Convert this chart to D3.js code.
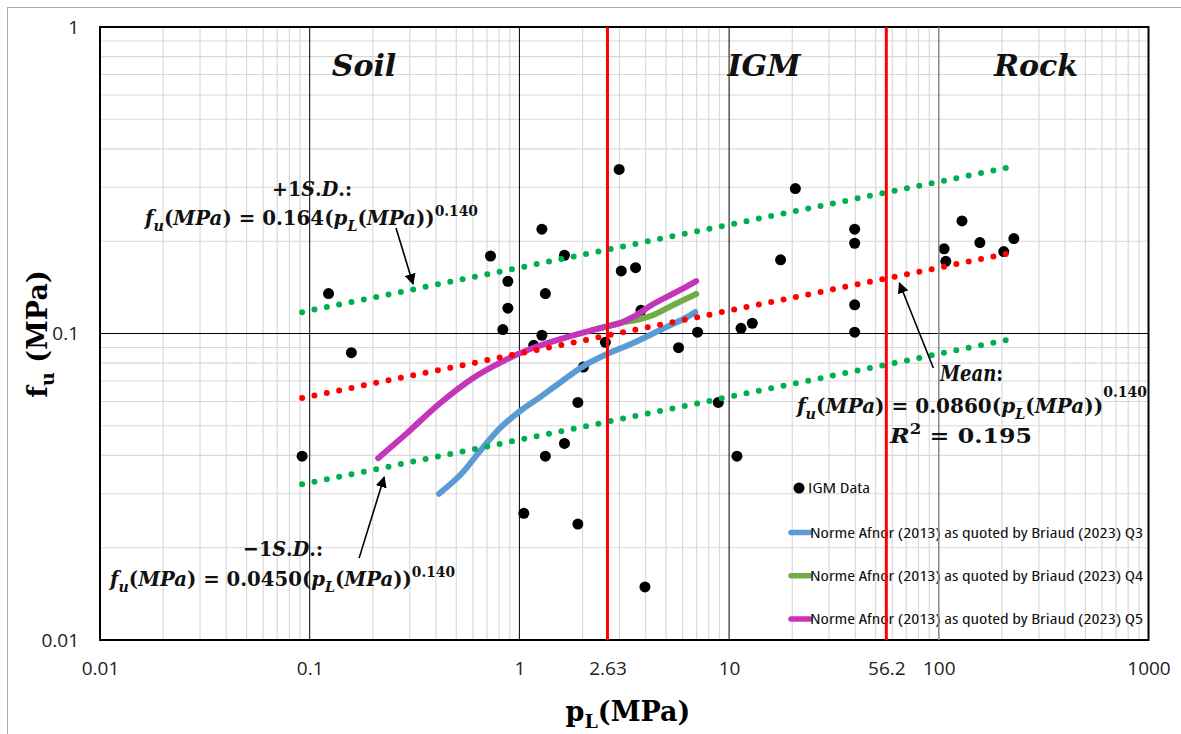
<!DOCTYPE html>
<html>
<head>
<meta charset="UTF-8">
<title>fu vs pL</title>
<style>
  body, html { margin: 0; padding: 0; background: #fff; }
  svg { display: block; }
  .axis text { font-family: "Open Sans", sans-serif; font-size: 19px; fill: #222; }
  .math { font-family: "DejaVu Serif", serif; font-weight: bold; fill: #111; }
  .legend text { font-family: "Open Sans", sans-serif; font-size: 14px; font-stretch: 80%; fill: #111; }
</style>
</head>
<body>
<script src="https://cdn.jsdelivr.net/npm/d3@7"></script>
<script>
// IGM data (pL, fu) in MPa
var dataPL = [0.092, 0.123, 0.158, 0.728, 0.881, 0.881, 0.834, 1.28, 1.33, 1.64, 1.28, 1.17, 2.02, 1.90,
  1.33, 1.64, 1.05, 1.90, 2.57, 2.99, 3.06, 3.58, 3.80, 5.74, 7.07, 3.97, 8.88, 10.9, 11.4, 12.9, 17.6,
  20.7, 39.7, 39.7, 39.7, 39.7, 106, 108, 129, 157, 204, 228];
var dataFU = [0.0398, 0.135, 0.0866, 0.179, 0.148, 0.121, 0.103, 0.219, 0.135, 0.180, 0.0987, 0.0915, 0.0777, 0.0596,
  0.0398, 0.0438, 0.0259, 0.0239, 0.0936, 0.343, 0.160, 0.164, 0.119, 0.0899, 0.101, 0.0149, 0.0596, 0.0398, 0.104, 0.108, 0.174,
  0.297, 0.219, 0.197, 0.124, 0.101, 0.189, 0.172, 0.233, 0.198, 0.185, 0.204];

// Norme Afnor curves
var q3PL = [0.414, 0.528, 0.650, 0.810, 1.01, 1.26, 1.60, 2.02, 2.62, 3.49, 4.70, 6.32, 6.90];
var q3FU = [0.0300, 0.0348, 0.0414, 0.0492, 0.0559, 0.0621, 0.0700, 0.0783, 0.0857, 0.0931, 0.1027, 0.1132, 0.1175];
var q4PL = [2.25, 3.03, 3.70, 4.35, 5.42, 6.97];
var q4FU = [0.1027, 0.1082, 0.1110, 0.1149, 0.1239, 0.1346];
var q5PL = [0.212, 0.292, 0.414, 0.602, 0.837, 1.126, 1.565, 2.249, 3.027, 3.49, 4.35, 5.85, 6.97];
var q5FU = [0.0392, 0.0474, 0.0589, 0.0716, 0.0813, 0.0890, 0.0959, 0.1027, 0.1082, 0.1132, 0.1248, 0.1387, 0.1483];

// power fits, end points
var fitPL = [0.092, 228];
var meanFU = [0.0616, 0.184];
var plusFU = [0.1174, 0.351];
var minusFU = [0.0322, 0.0963];

// boundaries Soil / IGM / Rock
var limits = [2.63, 56.2];
var zones = ['Soil', 'IGM', 'Rock'];

var xTicks = [0.01, 0.1, 1, 2.63, 10, 56.2, 100, 1000];
var xTickLabels = ['0.01', '0.1', '1', '2.63', '10', '56.2', '100', '1000'];
var yTicks = [0.01, 0.1, 1];
var yTickLabels = ['0.01', '0.1', '1'];

var legendNames = ['IGM Data',
  'Norme Afnor (2013) as quoted by Briaud (2023) Q3',
  'Norme Afnor (2013) as quoted by Briaud (2023) Q4',
  'Norme Afnor (2013) as quoted by Briaud (2023) Q5'];

var W = 1181, H = 734;
var L = 100, R = 1148.5, T = 27, B = 640;

var svg = d3.select('body').append('svg')
  .attr('width', W)
  .attr('height', H);

var x = d3.scaleLog().domain([0.01, 1000]).range([L, R]);
var y = d3.scaleLog().domain([0.01, 1]).range([B, T]);

function isPow10(v) {
  var l = Math.log10(v);
  return Math.abs(l - Math.round(l)) < 1e-9;
}

// outer frame
svg.append('rect')
  .attr('x', 7.5).attr('y', 7.5)
  .attr('width', W).attr('height', H)
  .attr('fill', 'none').attr('stroke', '#aaa');

// minor grid
var grid = svg.append('g');
grid.selectAll('.vx').data(x.ticks().filter(function(v) { return !isPow10(v); }))
  .enter().append('line')
  .attr('x1', x).attr('x2', x).attr('y1', T).attr('y2', B)
  .attr('stroke', '#d9d9d9').attr('stroke-width', 1.2);
grid.selectAll('.hy').data(y.ticks().filter(function(v) { return !isPow10(v); }))
  .enter().append('line')
  .attr('x1', L).attr('x2', R).attr('y1', y).attr('y2', y)
  .attr('stroke', '#d9d9d9').attr('stroke-width', 1.2);

// major grid
grid.selectAll('.mx').data([0.1, 1, 10])
  .enter().append('line')
  .attr('x1', x).attr('x2', x).attr('y1', T).attr('y2', B)
  .attr('stroke', '#000').attr('stroke-width', 1);
grid.append('line')
  .attr('x1', L).attr('x2', R).attr('y1', y(0.1)).attr('y2', y(0.1))
  .attr('stroke', '#000').attr('stroke-width', 1);

// data points
svg.append('g').selectAll('circle')
  .data(dataPL.map(function(p, i) { return [p, dataFU[i]]; }))
  .enter().append('circle')
  .attr('cx', function(d) { return x(d[0]); })
  .attr('cy', function(d) { return y(d[1]); })
  .attr('r', 5.5)
  .attr('fill', '#000');

// afnor curves
var line = d3.line()
  .x(function(d) { return x(d[0]); })
  .y(function(d) { return y(d[1]); })
  .curve(d3.curveCatmullRom);

var curves = [
  { p: q3PL, f: q3FU, c: '#5b9bd5' },
  { p: q4PL, f: q4FU, c: '#70ad47' },
  { p: q5PL, f: q5FU, c: '#c535b8' }
];
curves.forEach(function(s) {
  svg.append('path')
    .datum(s.p.map(function(p, i) { return [p, s.f[i]]; }))
    .attr('d', line)
    .attr('fill', 'none')
    .attr('stroke', s.c)
    .attr('stroke-width', 6)
    .attr('stroke-linecap', 'round')
    .attr('stroke-linejoin', 'round');
});

// trend lines (dotted)
var fits = [
  { f: plusFU, c: '#00b050' },
  { f: minusFU, c: '#00b050' },
  { f: meanFU, c: '#ff0000' }
];
fits.forEach(function(s) {
  svg.append('path')
    .datum(fitPL.map(function(p, i) { return [p, s.f[i]]; }))
    .attr('d', d3.line().x(function(d) { return x(d[0]); }).y(function(d) { return y(d[1]); }))
    .attr('fill', 'none')
    .attr('stroke', s.c)
    .attr('stroke-width', 6)
    .attr('stroke-dasharray', '0 12.6')
    .attr('stroke-linecap', 'round');
});

// legend
var lg = svg.append('g').attr('class', 'legend');
lg.append('circle').attr('cx', 799).attr('cy', 488).attr('r', 5.5).attr('fill', '#000');
lg.append('text').attr('x', 808).attr('y', 493).attr('textLength', 62)
  .attr('lengthAdjust', 'spacingAndGlyphs').text(legendNames[0]);
curves.forEach(function(s, i) {
  var yy = 532.5 + i * 43.3;
  lg.append('line').attr('x1', 791).attr('x2', 810).attr('y1', yy).attr('y2', yy)
    .attr('stroke', s.c).attr('stroke-width', 5.5).attr('stroke-linecap', 'round');
  lg.append('text').attr('x', 810).attr('y', yy + 5).attr('textLength', 333)
    .attr('lengthAdjust', 'spacingAndGlyphs').text(legendNames[i + 1]);
});

// plot border
svg.append('rect')
  .attr('x', L).attr('y', T)
  .attr('width', R - L).attr('height', B - T)
  .attr('fill', 'none').attr('stroke', '#000').attr('stroke-width', 2);

// boundary lines
svg.append('line')
  .attr('x1', x(100)).attr('x2', x(100)).attr('y1', T).attr('y2', B)
  .attr('stroke', '#888').attr('stroke-width', 1.5);
svg.selectAll('.lim').data(limits)
  .enter().append('line')
  .attr('x1', x).attr('x2', x).attr('y1', T).attr('y2', B)
  .attr('stroke', '#ff0000').attr('stroke-width', 3);

// axes
var xAxis = d3.axisBottom(x).tickValues(xTicks).tickSize(0).tickPadding(22)
  .tickFormat(function(d, i) { return xTickLabels[i]; });
svg.append('g').attr('class', 'axis').attr('transform', 'translate(0,' + B + ')')
  .call(xAxis).call(function(g) { g.select('.domain').remove(); });
var yAxis = d3.axisLeft(y).tickValues(yTicks).tickSize(0).tickPadding(21)
  .tickFormat(function(d, i) { return yTickLabels[i]; });
svg.append('g').attr('class', 'axis').attr('transform', 'translate(' + L + ',0)')
  .call(yAxis).call(function(g) { g.select('.domain').remove(); });

// math-like text helper
function mathText(px, py, size, parts, len, anchor) {
  var t = svg.append('text').attr('class', 'math')
    .attr('x', px).attr('y', py)
    .attr('font-size', size)
    .attr('text-anchor', anchor || 'start');
  if (len) t.attr('textLength', len).attr('lengthAdjust', 'spacingAndGlyphs');
  var shift = 0;
  parts.forEach(function(p) {
    var target = 0, fs = size;
    if (p[1].indexOf('sub') >= 0) { target = size * 0.28; fs = size * 0.72; }
    if (p[1].indexOf('sup') >= 0) { target = -size * (p[2] || 0.45); fs = size * 0.7; }
    var s = t.append('tspan').attr('dy', target - shift).attr('font-size', fs).text(p[0]);
    if (p[1].indexOf('i') >= 0) s.attr('font-style', 'italic');
    shift = target;
  });
  return t;
}

// zone labels
var zoneX = [364, 764, 1036];
zones.forEach(function(z, i) {
  mathText(zoneX[i], 76, 30, [[z, 'i']], null, 'middle');
});

function eq(coef, supUp) {
  return [['f', 'i'], ['u', 'subi'], ['(', ''], ['MPa', 'i'], [') = ' + coef + '(', ''],
    ['p', 'i'], ['L', 'subi'], ['(', ''], ['MPa', 'i'], ['))', ''], ['0.140', 'sup', supUp]];
}

// +1 S.D.
mathText(312, 196, 21, [['+1', ''], ['S', 'i'], ['.', ''], ['D', 'i'], ['.:', '']], 80, 'middle');
mathText(145, 225, 21, eq('0.164'), 333);
// -1 S.D.
mathText(283, 556, 21, [['\u22121', ''], ['S', 'i'], ['.', ''], ['D', 'i'], ['.:', '']], 80, 'middle');
mathText(110, 586, 21, eq('0.0450'), 345);
// mean
mathText(940, 381, 22, [['Mean', 'i'], [':', '']], 63);
mathText(797, 413, 21, eq('0.0860', 0.78), 350);
mathText(890, 443, 21, [['R', 'i'], ['2', 'sup'], [' = 0.195', '']], 142);

// arrows
var defs = svg.append('defs');
defs.append('marker').attr('id', 'ah')
  .attr('viewBox', '0 0 10 10').attr('refX', 9).attr('refY', 5)
  .attr('markerWidth', 7).attr('markerHeight', 7).attr('orient', 'auto')
  .append('path').attr('d', 'M0,0 L10,5 L0,10 Z').attr('fill', '#000');
var arrows = [
  [[0.258, 0.221], [0.311, 0.145]],
  [[0.172, 0.0185], [0.2265, 0.034]],
  [[94.2, 0.0772], [64.9, 0.1462]]
];
arrows.forEach(function(a) {
  svg.append('line')
    .attr('x1', x(a[0][0])).attr('y1', y(a[0][1]))
    .attr('x2', x(a[1][0])).attr('y2', y(a[1][1]))
    .attr('stroke', '#000').attr('stroke-width', 1.6)
    .attr('marker-end', 'url(#ah)');
});

// axis titles
var xt = svg.append('text').attr('x', 628).attr('y', 721)
  .attr('text-anchor', 'middle')
  .attr('font-family', '"DejaVu Serif", serif').attr('font-weight', 'bold').attr('font-size', 27);
xt.append('tspan').text('p');
xt.append('tspan').attr('dy', 7).attr('font-size', 19).text('L');
xt.append('tspan').attr('dy', -7).text('(MPa)');

var yt = svg.append('text').attr('transform', 'translate(47,334) rotate(-90)')
  .attr('text-anchor', 'middle')
  .attr('font-family', '"DejaVu Serif", serif').attr('font-weight', 'bold').attr('font-size', 27);
yt.append('tspan').text('f');
yt.append('tspan').attr('dy', 7).attr('font-size', 19).text('u');
yt.append('tspan').attr('dy', -7).text(' (MPa)');
</script>
</body>
</html>
